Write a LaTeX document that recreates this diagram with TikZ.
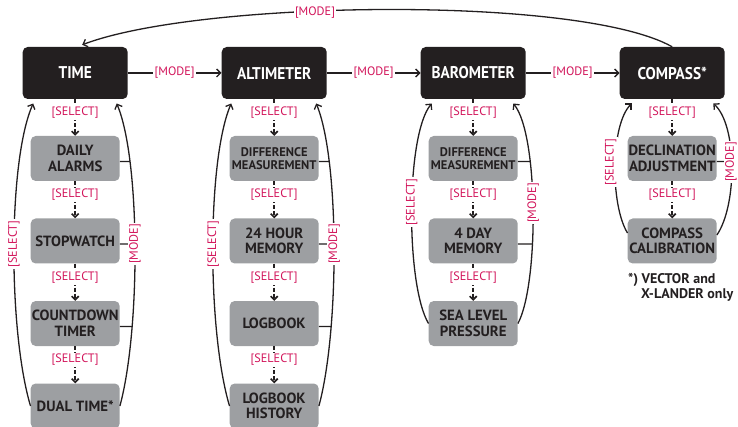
\documentclass[tikz,border=0pt]{standalone}
\usepackage{fontspec}
\setmainfont{PT Sans}
\newfontfamily\titlefont[FakeStretch=0.9]{PT Sans}
\usetikzlibrary{arrows.meta,intersections}
\definecolor{blk}{HTML}{231F20}
\definecolor{gry}{HTML}{9D9FA2}
\definecolor{redl}{HTML}{D2145A}
\tikzset{
  modebox/.style={rectangle, rounded corners=5pt, fill=blk, minimum width=105pt, minimum height=52pt, text=white, inner sep=0pt, font=\titlefont\bfseries\fontsize{17}{18}\selectfont},
  subbox/.style={rectangle, rounded corners=5pt, fill=gry, minimum width=89pt, minimum height=45pt, text=blk, align=center, inner sep=0pt, font=\bfseries\fontsize{14.8}{15.6}\selectfont},
  subsmall/.style={subbox, font=\bfseries\fontsize{12.5}{13.5}\selectfont},
  lbl/.style={text=redl, fill=white, inner sep=1.5pt, font=\fontsize{12.2}{12.2}\selectfont},
  conn/.style={line width=1.3pt, draw=blk},
  arr/.style={conn, -{Straight Barb[length=4pt,width=8pt]}},
  selarr/.style={conn, line width=1.6pt, dash pattern=on 4pt off 2pt, -{Straight Barb[length=3.5pt,width=7pt]}},
}
\newcommand\hlink[3]{%
  \path[name path=hl#3] ([yshift=-3pt]#1.east) -- ++(30,0);
  \draw[conn, name intersections={of=#2 and hl#3}] ([yshift=-3pt]#1.east) -- (intersection-1);}
\begin{document}
\begin{tikzpicture}[x=1pt,y=-1pt]
\useasboundingbox (0,0) rectangle (738,427);
% main mode boxes
\node[modebox] (time) at (75.2,73) {TIME};
\node[modebox] (alt) at (274.2,73) {ALTIMETER};
\node[modebox] (baro) at (473.2,73) {BAROMETER};
\node[modebox] (comp) at (672.2,73) {COMPASS*};
% time column
\node[subbox] (da) at (75.2,158.5) {DAILY\\ALARMS};
\node[subbox] (sw) at (75.2,241) {STOPWATCH};
\node[subbox] (ct) at (75.2,323.5) {COUNTDOWN\\TIMER};
\node[subbox] (dt) at (75.2,406) {DUAL TIME*};
% altimeter column
\node[subsmall] (dm) at (274.2,158.5) {DIFFERENCE\\MEASUREMENT};
\node[subbox] (hm) at (274.2,241) {24 HOUR\\MEMORY};
\node[subbox] (lb) at (274.2,323.5) {LOGBOOK};
\node[subbox] (lh) at (274.2,406) {LOGBOOK\\HISTORY};
% barometer column
\node[subsmall] (bdm) at (473.2,158.5) {DIFFERENCE\\MEASUREMENT};
\node[subbox] (dm4) at (473.2,241) {4 DAY\\MEMORY};
\node[subbox] (sp) at (473.2,323.5) {SEA LEVEL\\PRESSURE};
% compass column
\node[subbox] (da2) at (672.2,158.5) {DECLINATION\\ADJUSTMENT};
\node[subbox] (cc) at (672.2,241) {COMPASS\\CALIBRATION};
% footnote
\node[anchor=north west, align=left, inner sep=0pt, text=blk, font=\bfseries\fontsize{14}{15.5}\selectfont] (note) at (628,273) {*) VECTOR and\\\hspace*{13pt}X-LANDER only};

% select arrows
\draw[selarr] (time) -- node[lbl,pos=0.36]{[SELECT]} (da);
\draw[selarr] (da) -- node[lbl,pos=0.37]{[SELECT]} (sw);
\draw[selarr] (sw) -- node[lbl,pos=0.37]{[SELECT]} (ct);
\draw[selarr] (ct) -- node[lbl,pos=0.37]{[SELECT]} (dt);
\draw[selarr] (alt) -- node[lbl,pos=0.36]{[SELECT]} (dm);
\draw[selarr] (dm) -- node[lbl,pos=0.37]{[SELECT]} (hm);
\draw[selarr] (hm) -- node[lbl,pos=0.37]{[SELECT]} (lb);
\draw[selarr] (lb) -- node[lbl,pos=0.37]{[SELECT]} (lh);
\draw[selarr] (baro) -- node[lbl,pos=0.36]{[SELECT]} (bdm);
\draw[selarr] (bdm) -- node[lbl,pos=0.37]{[SELECT]} (dm4);
\draw[selarr] (dm4) -- node[lbl,pos=0.37]{[SELECT]} (sp);
\draw[selarr] (comp) -- node[lbl,pos=0.36]{[SELECT]} (da2);
\draw[selarr] (da2) -- node[lbl,pos=0.37]{[SELECT]} (cc);

% mode arrows
\draw[arr] (time) -- node[lbl]{[MODE]} (alt);
\draw[arr] (alt) -- node[lbl]{[MODE]} (baro);
\draw[arr] (baro) -- node[lbl]{[MODE]} (comp);
\draw[arr] (comp.north) .. controls (580,-5) and (200,0) .. ([xshift=7,yshift=2]time.north);

% loops: time
\draw[arr] (dt.west) .. controls (8,330) and (8,160) .. ([xshift=-42,yshift=-4.3]time.south);
\draw[arr, name path=tr] (dt.east) .. controls (140.5,330) and (140.5,160) .. ([xshift=41.5,yshift=-4.3]time.south);
% loops: altimeter
\draw[arr] (lh.west) .. controls (207,330) and (207,160) .. ([xshift=-43,yshift=-4.3]alt.south);
\draw[arr, name path=ar] (lh.east) .. controls (339.5,330) and (339.5,160) .. ([xshift=42,yshift=-4.3]alt.south);
% loops: barometer
\draw[arr] (sp.west) .. controls (405.6,285) and (405.6,135) .. ([xshift=-41.5,yshift=-4.3]baro.south);
\draw[arr, name path=br] (sp.east) .. controls (538.8,285) and (538.8,135) .. ([xshift=40.1,yshift=-4.3]baro.south);
% loops: compass
\draw[arr] ([yshift=8]cc.west) .. controls (610.2,205) and (610.2,125) .. ([xshift=-40.5,yshift=-4.3]comp.south);
\draw[arr, name path=cr] ([yshift=6]cc.east) .. controls (737.3,205) and (737.3,125) .. ([xshift=41.1,yshift=-4.3]comp.south);

% horizontal links to mode loops
\hlink{da}{tr}{a}
\hlink{sw}{tr}{b}
\hlink{ct}{tr}{c}
\hlink{dm}{ar}{d}
\hlink{hm}{ar}{e}
\hlink{lb}{ar}{f}
\hlink{bdm}{br}{g}
\hlink{dm4}{br}{h}
\hlink{da2}{cr}{i}

% loop labels
\node[lbl, rotate=90] (ls1) at (14,244) {[SELECT]};
\node[lbl, rotate=90] (lm1) at (135,244) {[MODE]};
\node[lbl, rotate=90] (ls2) at (213.3,244) {[SELECT]};
\node[lbl, rotate=90] (lm2) at (334.3,244) {[MODE]};
\node[lbl, rotate=90] (ls3) at (411.7,202) {[SELECT]};
\node[lbl, rotate=90] (lm3) at (533.3,203) {[MODE]};
\node[lbl, rotate=90] (ls4) at (610.7,162) {[SELECT]};
\node[lbl, rotate=90] (lm4) at (731,162) {[MODE]};
\node[lbl] (topmode) at (315,13) {[MODE]};
\end{tikzpicture}
\end{document}
